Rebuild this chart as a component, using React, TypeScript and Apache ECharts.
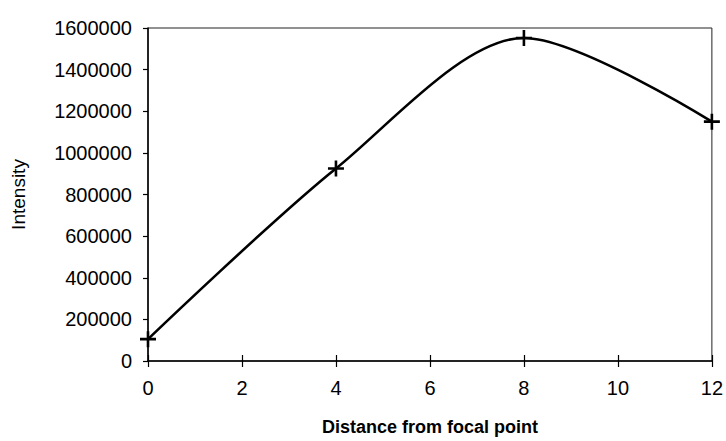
import React, { useEffect, useRef } from "react";
import * as echarts from "echarts";

const distances = [0, 4, 8, 12];
const intensities = [105000, 925000, 1552000, 1150000];
const xTicks = [0, 2, 4, 6, 8, 10, 12];
const yTicks = [0, 200000, 400000, 600000, 800000, 1000000, 1200000, 1400000, 1600000];
const xTitle = "Distance from focal point";
const yTitle = "Intensity";

export default function App() {
  const ref = useRef<HTMLDivElement>(null);
  useEffect(() => {
    document.body.style.margin = "0";
    if (!ref.current) return;
    const chart = echarts.init(ref.current, null, { renderer: "svg" });
    const font = "'Liberation Sans', Arial, sans-serif";
    const xMin = xTicks[0];
    const xMax = xTicks[xTicks.length - 1];
    const xInt = xTicks[1] - xTicks[0];
    const yMin = yTicks[0];
    const yMax = yTicks[yTicks.length - 1];
    const yInt = yTicks[1] - yTicks[0];
    chart.setOption({
      animation: false,
      backgroundColor: "#fff",
      grid: {
        left: 148,
        right: 12,
        top: 28,
        bottom: 77,
        show: true,
        borderColor: "#222",
        borderWidth: 1,
        backgroundColor: "transparent",
      },
      xAxis: [
        {
          type: "value",
          position: "bottom",
          min: xMin,
          max: xMax,
          interval: xInt,
          name: xTitle,
          nameLocation: "middle",
          nameGap: 57,
          nameTextStyle: { fontFamily: font, fontSize: 18, fontWeight: "bold", color: "#000" },
          axisLine: { show: true, lineStyle: { color: "#000", width: 1.5 } },
          axisTick: { show: true, inside: false, length: 6, lineStyle: { color: "#000", width: 1.2 } },
          axisLabel: { fontFamily: font, fontSize: 20, color: "#000", margin: 17 },
          splitLine: { show: false },
        },
        {
          type: "value",
          position: "bottom",
          min: xMin,
          max: xMax,
          interval: xInt,
          axisLine: { show: false },
          axisTick: { show: true, inside: true, length: 6, lineStyle: { color: "#000", width: 1.2 } },
          axisLabel: { show: false },
          splitLine: { show: false },
        },
      ],
      yAxis: {
        type: "value",
        min: yMin,
        max: yMax,
        interval: yInt,
        name: yTitle,
        nameLocation: "middle",
        nameGap: 120,
        nameTextStyle: { fontFamily: font, fontSize: 19, color: "#000" },
        axisLine: { show: true, lineStyle: { color: "#000", width: 1.5 } },
        axisTick: { show: true, inside: false, length: 5, lineStyle: { color: "#000", width: 1.2 } },
        axisLabel: {
          fontFamily: font,
          fontSize: 20,
          color: "#000",
          margin: 16,
          formatter: (v: number) => String(v),
        },
        splitLine: { show: false },
      },
      series: [
        {
          type: "line",
          data: distances.map((d, i) => [d, intensities[i]]),
          smooth: 0.3,
          symbol: "path://M0,8H16M8,0V16",
          symbolSize: 16,
          showSymbol: true,
          itemStyle: { color: "#000", borderColor: "#000", borderWidth: 2.6 },
          lineStyle: { color: "#000", width: 2.6 },
          clip: false,
          z: 5,
        },
      ],
    });
    return () => chart.dispose();
  }, []);
  return <div ref={ref} style={{ width: 726, height: 441 }} />;
}
